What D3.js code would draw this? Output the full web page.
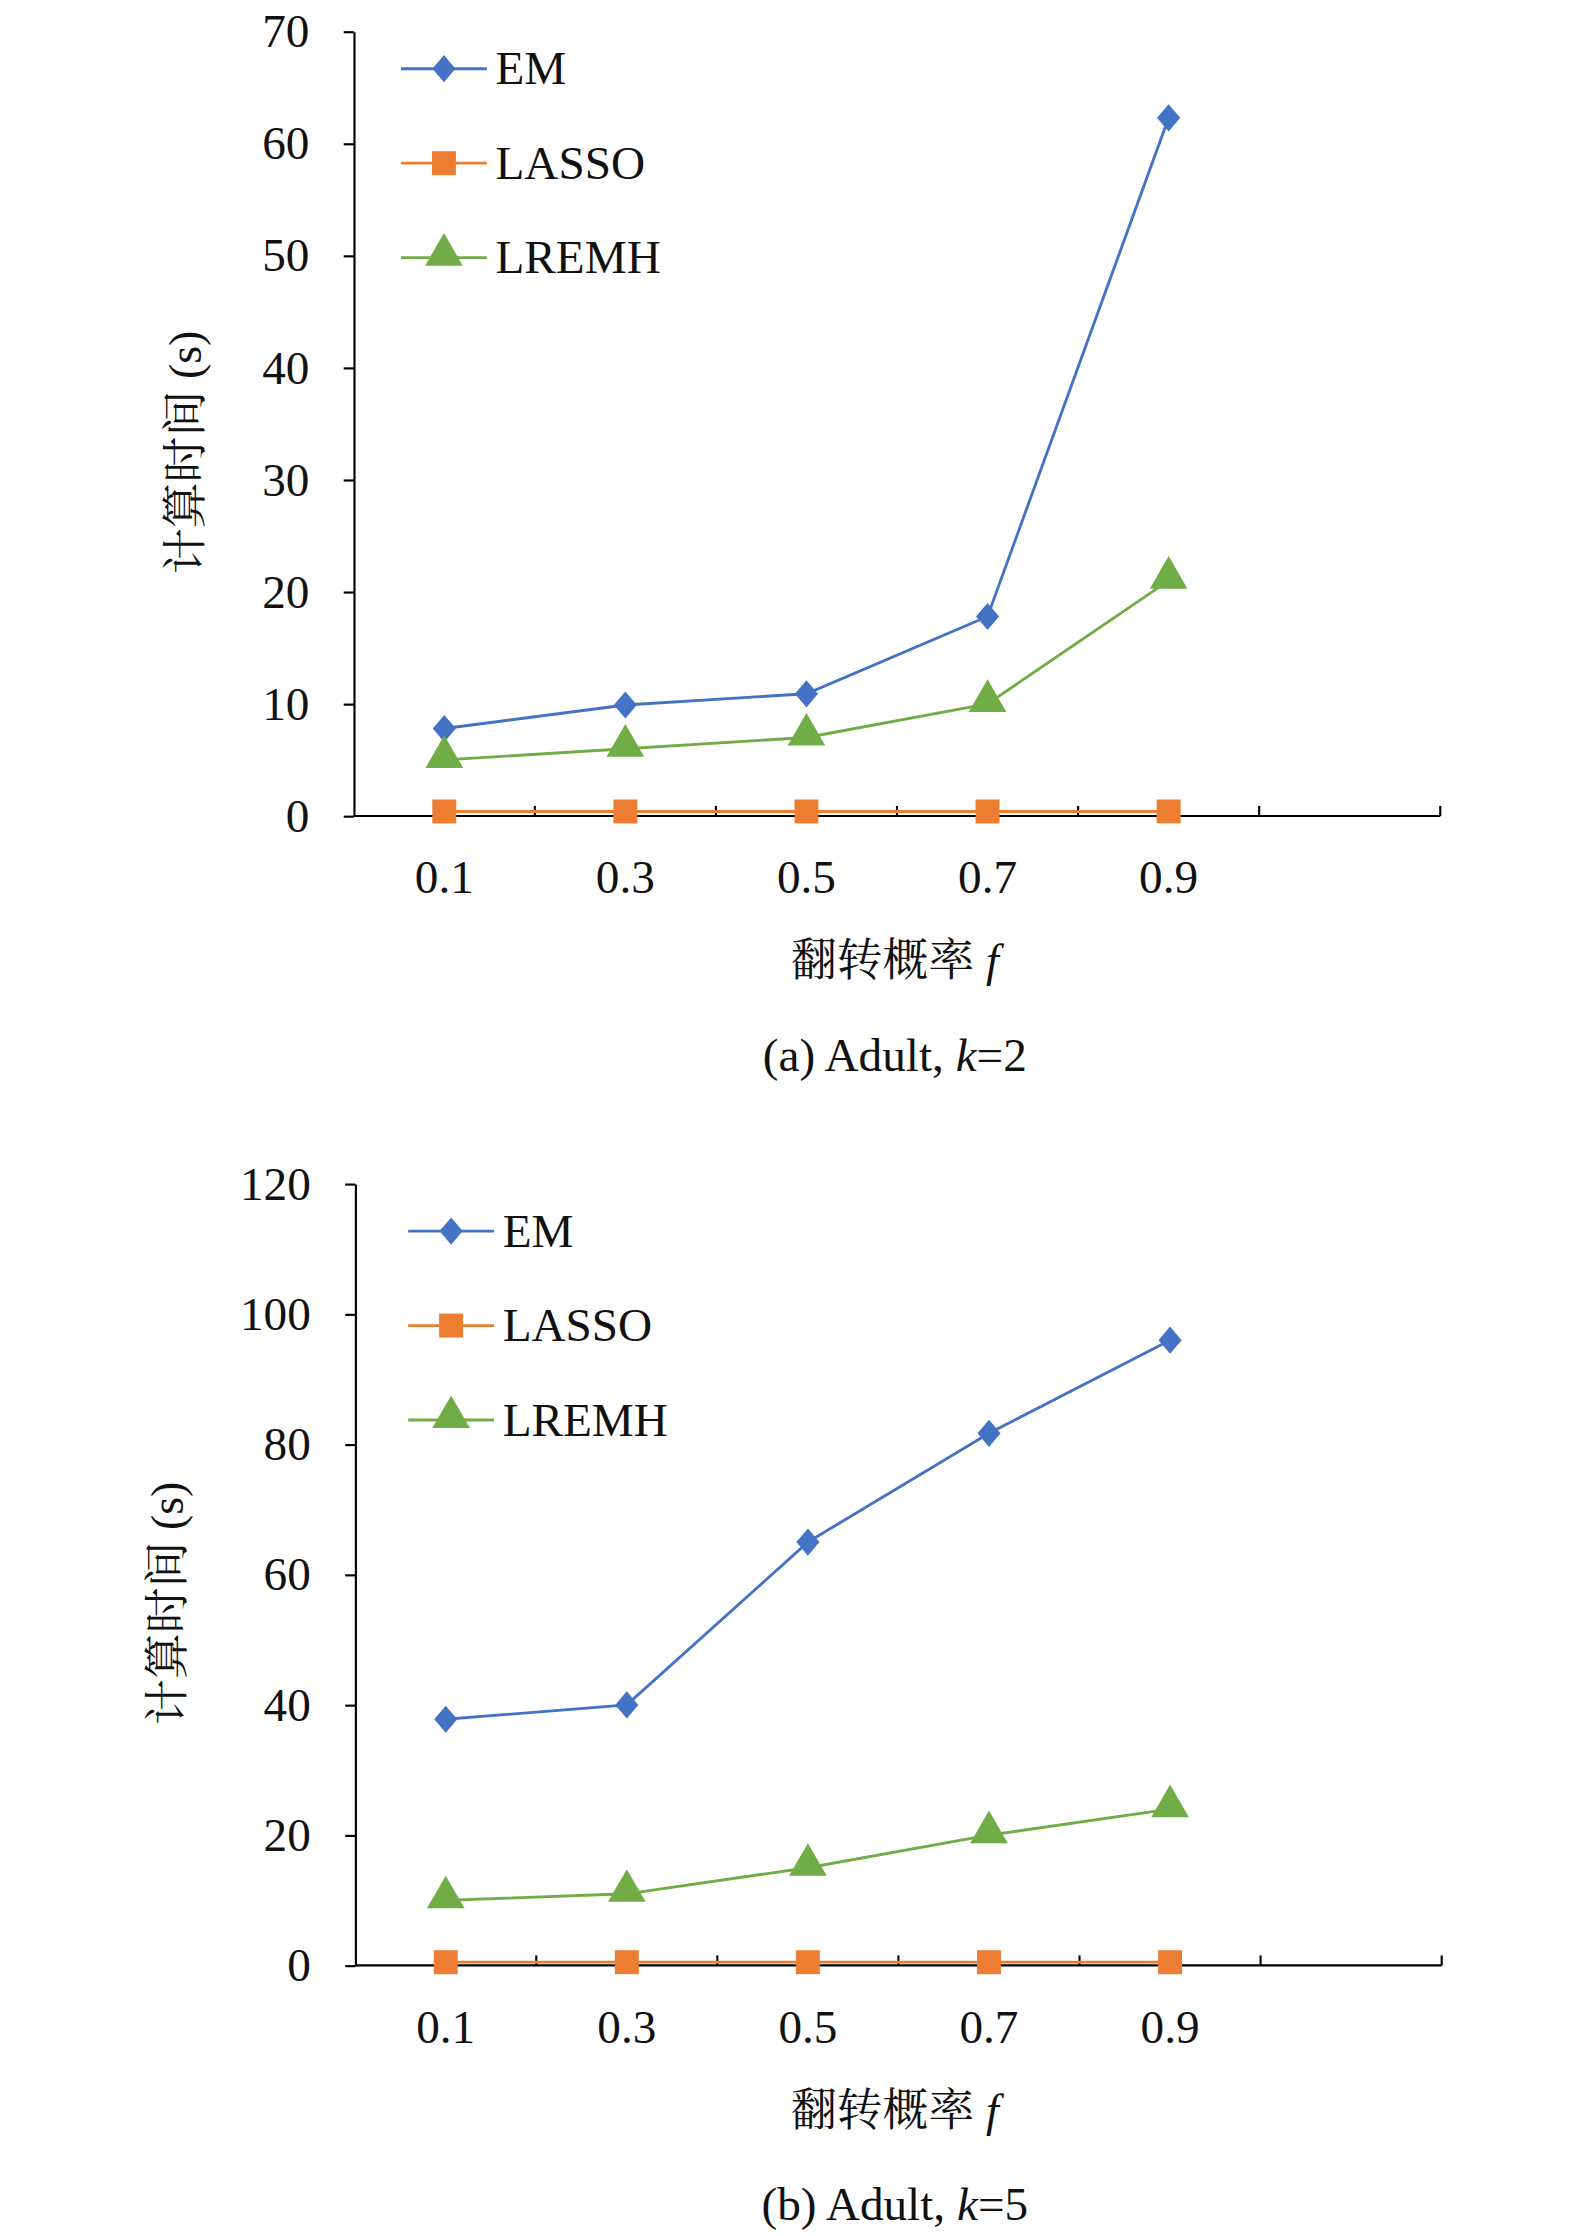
<!DOCTYPE html>
<html><head><meta charset="utf-8">
<script src="https://cdn.jsdelivr.net/npm/d3@7"></script>
<style>body{margin:0;background:#fff}</style>
</head><body>
<svg id="fig" width="1575" height="2236" viewBox="0 0 1100 1562"></svg>
<script>
const categories = ['0.1', '0.3', '0.5', '0.7', '0.9']
const seriesNames = ['EM', 'LASSO', 'LREMH']
const colors = ['#4472C4', '#ED7D31', '#70AD47']

const emK2 = [7.8, 9.9, 10.9, 17.8, 62.3]
const lassoK2 = [0.4, 0.4, 0.4, 0.4, 0.4]
const lremhK2 = [5.0, 6.0, 7.0, 10.0, 21.0]
const ticksK2 = [0, 10, 20, 30, 40, 50, 60, 70]

const emK5 = [37.8, 40.0, 65.0, 81.7, 96.0]
const lassoK5 = [0.5, 0.5, 0.5, 0.5, 0.5]
const lremhK5 = [10.0, 11.0, 15.0, 20.0, 24.0]
const ticksK5 = [0, 20, 40, 60, 80, 100, 120]

const svg = d3.select('#fig')
const serif = '"Liberation Serif", "Times New Roman", Times, "DejaVu Serif", serif'
const cjk = '"Noto Serif CJK SC", "Noto Sans CJK SC", serif'

function drawPanel(opt) {
  const g = svg.append('g')
  const x = d3.scaleBand().domain([...categories, '']).range([opt.left, opt.right])
  const y = d3.scaleLinear().domain([0, opt.ticks[opt.ticks.length - 1]]).range([opt.bottom, opt.top])

  // y axis
  const ya = g.append('g').attr('transform', `translate(${opt.left},0)`)
    .call(d3.axisLeft(y).tickValues(opt.ticks).tickSize(7).tickSizeOuter(0).tickPadding(24))
  ya.select('.domain').attr('stroke', '#000').attr('stroke-width', 1.5)
  ya.selectAll('line').attr('stroke-width', 1.5)
  ya.selectAll('text').attr('font-family', serif).attr('font-size', 33).attr('fill', '#111')

  // x axis: ticks on band boundaries, labels at band centres
  const bounds = x.domain().map(d => x(d) + x.bandwidth())
  g.append('line').attr('x1', opt.left).attr('x2', opt.right)
    .attr('y1', opt.bottom).attr('y2', opt.bottom).attr('stroke', '#000').attr('stroke-width', 1.5)
  g.selectAll('.xt').data(bounds).join('line')
    .attr('x1', d => d).attr('x2', d => d).attr('y1', opt.bottom).attr('y2', opt.bottom - 7)
    .attr('stroke', '#000').attr('stroke-width', 1.5)
  g.selectAll('.xl').data(categories).join('text')
    .attr('x', d => x(d) + x.bandwidth() / 2).attr('y', opt.bottom + 54)
    .attr('text-anchor', 'middle').attr('font-family', serif).attr('font-size', 33).attr('fill', '#111')
    .text(d => d)

  const xt = g.append('text').attr('x', 625).attr('y', opt.bottom + 112)
    .attr('text-anchor', 'middle').attr('font-size', 32).attr('fill', '#111')
  xt.append('tspan').attr('font-family', cjk).text('翻转概率 ')
  xt.append('tspan').attr('font-family', serif).attr('font-style', 'italic').text('f')

  const cap = g.append('text').attr('x', 625).attr('y', opt.bottom + 178)
    .attr('text-anchor', 'middle').attr('font-family', serif).attr('font-size', 33).attr('fill', '#111')
  cap.append('tspan').text(opt.caption[0])
  cap.append('tspan').attr('font-style', 'italic').text('k')
  cap.append('tspan').text(opt.caption[1])

  const yt = g.append('text')
    .attr('transform', `translate(${opt.yTitleX},${(opt.top + opt.bottom) / 2 + 20}) rotate(-90)`)
    .attr('text-anchor', 'middle').attr('font-size', 32).attr('fill', '#111')
  yt.append('tspan').attr('font-family', cjk).text('计算时间 ')
  yt.append('tspan').attr('font-family', serif).text('(s)')

  const line = d3.line().x((d, i) => x(categories[i]) + x.bandwidth() / 2).y(d => y(d))
  const symbols = [d3.symbolSquare, d3.symbolSquare, d3.symbolTriangle]
  const sizes = [200, 280, 300]
  const extra = [' rotate(45) scale(0.95,0.95) ', '', ' translate(0,-2)']
  const shape = s => s === 0 ? ' scale(0.85,1)' + extra[0] : extra[s]

  opt.series.forEach((vals, s) => {
    g.append('path').datum(vals).attr('d', line).attr('fill', 'none')
      .attr('stroke', colors[s]).attr('stroke-width', 2)
    g.selectAll('.m' + s).data(vals).join('path')
      .attr('transform', (d, i) => `translate(${x(categories[i]) + x.bandwidth() / 2},${y(d)})` + shape(s))
      .attr('d', d3.symbol(symbols[s], sizes[s])).attr('fill', colors[s])

    const ly = opt.legendY + s * 66
    g.append('line').attr('x1', opt.legendX).attr('x2', opt.legendX + 60)
      .attr('y1', ly).attr('y2', ly).attr('stroke', colors[s]).attr('stroke-width', 2)
    g.append('path').attr('transform', `translate(${opt.legendX + 30},${ly})` + shape(s))
      .attr('d', d3.symbol(symbols[s], sizes[s])).attr('fill', colors[s])
    g.append('text').attr('x', opt.legendX + 66).attr('y', ly + 11)
      .attr('font-family', serif).attr('font-size', 33).attr('fill', '#111').text(seriesNames[s])
  })
}

drawPanel({
  left: 247, right: 1006, top: 22, bottom: 570, ticks: ticksK2,
  series: [emK2, lassoK2, lremhK2], legendX: 280, legendY: 48, yTitleX: 140,
  caption: ['(a) Adult, ', '=2']
})
drawPanel({
  left: 248, right: 1007, top: 827, bottom: 1373, ticks: ticksK5,
  series: [emK5, lassoK5, lremhK5], legendX: 285, legendY: 860, yTitleX: 128,
  caption: ['(b) Adult, ', '=5']
})
</script>
</body></html>
